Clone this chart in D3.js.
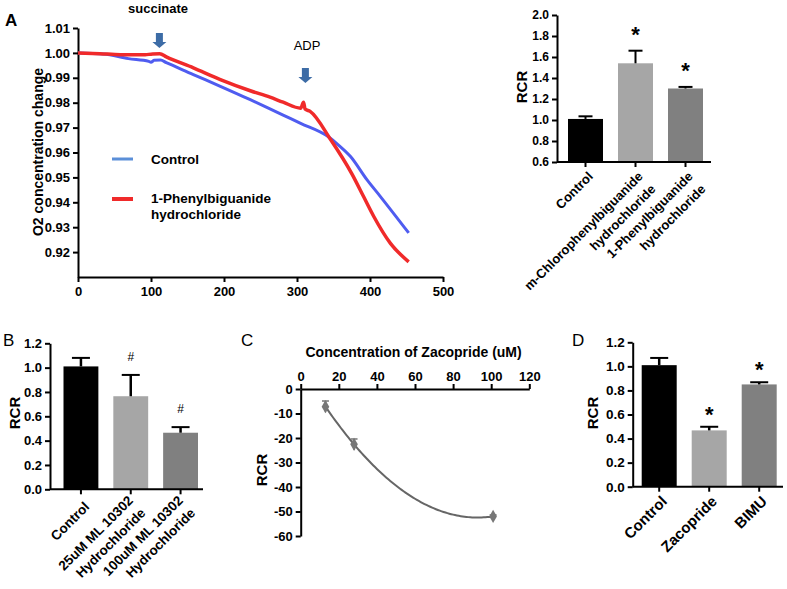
<!DOCTYPE html>
<html lang="en">
<head>
<meta charset="UTF-8">
<title>RCR figure</title>
<script src="https://cdn.jsdelivr.net/npm/d3@7"></script>
<style>
  body { margin: 0; background: #fff; }
  svg text { font-family: "Liberation Sans", Arial, sans-serif; }
</style>
</head>
<body>
<svg id="fig" width="787" height="589"></svg>
<script>
// ---- panel A, oxygen traces ----
var timeControl = [0, 35, 69, 97, 100, 104, 113, 121, 158, 195, 236, 263, 281, 305, 343, 358, 373, 396, 414, 453];
var o2Control   = [1.0000, 0.9996, 0.9977, 0.9966, 0.9962, 0.9970, 0.9971, 0.9961, 0.9913, 0.9866, 0.9812, 0.9775, 0.9750, 0.9717, 0.9663, 0.9627, 0.9585, 0.9490, 0.9424, 0.9277];
var timeDrug = [0, 30, 58, 92, 100, 112, 121, 158, 195, 236, 263, 281, 305, 309, 311, 318, 346, 375, 391, 405, 428, 453];
var o2Drug   = [1.0000, 0.9997, 0.9993, 0.9993, 0.9995, 0.9997, 0.9984, 0.9940, 0.9893, 0.9848, 0.9822, 0.9802, 0.9778, 0.9802, 0.9775, 0.9765, 0.9652, 0.9515, 0.9424, 0.9344, 0.9235, 0.9161];
var traceXTicks = [0, 100, 200, 300, 400, 500];
var traceYTicks = [0.92, 0.93, 0.94, 0.95, 0.96, 0.97, 0.98, 0.99, 1.00, 1.01];

// ---- panel A, RCR bars ----
var aLabels = [["Control"], ["m-Chlorophenylbiguanide", "hydrochloride"], ["1-Phenylbiguanide", "hydrochloride"]];
var aValues = [1.01, 1.54, 1.30];
var aErrors = [0.025, 0.12, 0.015];
var aMarks  = ["", "*", "*"];
var aTicks  = [0.6, 0.8, 1.0, 1.2, 1.4, 1.6, 1.8, 2.0];

// ---- panel B ----
var bLabels = [["Control"], ["25uM ML 10302", "Hydrochloride"], ["100uM ML 10302", "Hydrochloride"]];
var bValues = [1.01, 0.765, 0.465];
var bErrors = [0.07, 0.175, 0.046];
var bMarks  = ["", "#", "#"];
var bTicks  = [0.0, 0.2, 0.4, 0.6, 0.8, 1.0, 1.2];

// ---- panel C ----
var zacConc = [13, 28, 101];
var zacRCR  = [-7.2, -22.6, -52.0];
var zacErr  = [2.3, 2.2, 0.6];
var cXTicks = [0, 20, 40, 60, 80, 100, 120];
var cYTicks = [0, -10, -20, -30, -40, -50, -60];

// ---- panel D ----
var dLabels = [["Control"], ["Zacopride"], ["BIMU"]];
var dValues = [1.01, 0.468, 0.85];
var dErrors = [0.06, 0.03, 0.018];
var dMarks  = ["", "*", "*"];
var dTicks  = [0.0, 0.2, 0.4, 0.6, 0.8, 1.0, 1.2];

var barColors = ["#000000", "#a6a6a6", "#808080"];

var svg = d3.select("#fig");

function styleAxis(sel, fs) {
    sel.selectAll(".domain").attr("stroke", "#000").attr("stroke-width", 2);
    sel.selectAll(".tick line").attr("stroke", "#000").attr("stroke-width", 2);
    sel.selectAll(".tick text").attr("fill", "#000").attr("font-size", fs).attr("font-weight", "bold");
}

// ================= Panel A : traces =================
var xA = d3.scaleLinear().domain([0, 500]).range([78, 443]);
var yA = d3.scaleLinear().domain([0.91, 1.01]).range([277, 28]);

svg.append("g").attr("transform", "translate(0,277)")
    .call(d3.axisBottom(xA).tickValues(traceXTicks).tickSize(5).tickSizeOuter(0).tickPadding(5))
    .call(styleAxis, 13);
svg.append("g").attr("transform", "translate(78,0)")
    .call(d3.axisLeft(yA).tickValues(traceYTicks).tickFormat(d3.format(".2f")).tickSize(5).tickSizeOuter(0))
    .call(styleAxis, 13);

var traceLine = d3.line().curve(d3.curveMonotoneX)
    .x(function(d) { return xA(d[0]); }).y(function(d) { return yA(d[1]); });
svg.append("path").datum(d3.zip(timeControl, o2Control))
    .attr("d", traceLine).attr("fill", "none").attr("stroke", "#4f5cf0").attr("stroke-width", 3);
svg.append("path").datum(d3.zip(timeDrug, o2Drug))
    .attr("d", traceLine).attr("fill", "none").attr("stroke", "#f02a2a").attr("stroke-width", 3.5);

svg.append("text").attr("x", 38).attr("y", 152)
    .attr("transform", "rotate(-90,38,152)").attr("text-anchor", "middle").attr("dy", "0.35em")
    .attr("font-size", 14).attr("font-weight", "bold").text("O2 concentration change");

// injection arrows
function downArrow(cx, top, bottom) {
    var head = bottom - 6;
    var p = d3.path();
    p.moveTo(cx - 3.5, top); p.lineTo(cx + 3.5, top); p.lineTo(cx + 3.5, head);
    p.lineTo(cx + 7, head); p.lineTo(cx, bottom); p.lineTo(cx - 7, head);
    p.lineTo(cx - 3.5, head); p.closePath();
    svg.append("path").attr("d", p.toString()).attr("fill", "#3d6ca6");
}
downArrow(xA(111.5), yA(1.008), yA(1.002));
downArrow(xA(311.5), yA(0.9939), yA(0.9879));
svg.append("text").attr("x", 158).attr("y", 13).attr("text-anchor", "middle")
    .attr("font-size", 13).attr("font-weight", "bold").text("succinate");
svg.append("text").attr("x", 307).attr("y", 50).attr("text-anchor", "middle")
    .attr("font-size", 13).text("ADP");

// legend
svg.append("line").attr("x1", 112).attr("x2", 133).attr("y1", 159).attr("y2", 159)
    .attr("stroke", "#5b8fd8").attr("stroke-width", 3);
svg.append("line").attr("x1", 112).attr("x2", 133).attr("y1", 199).attr("y2", 199)
    .attr("stroke", "#f02a2a").attr("stroke-width", 4);
svg.append("text").attr("x", 151).attr("y", 159).attr("dy", "0.35em")
    .attr("font-size", 13.5).attr("font-weight", "bold").text("Control");
svg.append("text").attr("x", 151).attr("y", 198).attr("dy", "0.35em")
    .attr("font-size", 13.5).attr("font-weight", "bold").text("1-Phenylbiguanide");
svg.append("text").attr("x", 151).attr("y", 214).attr("dy", "0.35em")
    .attr("font-size", 13.5).attr("font-weight", "bold").text("hydrochloride");

// ================= bar panels =================
function drawBars(cfg) {
    var y = d3.scaleLinear().domain(cfg.yDomain).range([cfg.bottom, cfg.top]);
    var x = d3.scaleBand().domain(d3.range(cfg.values.length))
        .range([cfg.barLeft, cfg.barRight]).paddingInner(0.3).paddingOuter(0);
    var g = svg.append("g");

    g.selectAll("rect").data(cfg.values).join("rect")
        .attr("x", function(d, i) { return x(i); })
        .attr("width", x.bandwidth())
        .attr("y", function(d) { return y(d); })
        .attr("height", function(d) { return cfg.bottom - y(d); })
        .attr("fill", function(d, i) { return barColors[i]; });

    cfg.values.forEach(function(v, i) {
        var cx = x(i) + x.bandwidth() / 2;
        var top = y(v + cfg.errors[i]);
        g.append("line").attr("x1", cx).attr("x2", cx).attr("y1", y(v)).attr("y2", top)
            .attr("stroke", "#000").attr("stroke-width", cfg.errWidth);
        g.append("line").attr("x1", cx - cfg.capW / 2).attr("x2", cx + cfg.capW / 2)
            .attr("y1", top).attr("y2", top).attr("stroke", "#000").attr("stroke-width", 2);
        if (cfg.marks[i]) {
            g.append("text").attr("x", cx).attr("y", top - cfg.markGap + cfg.markShift * cfg.markSize)
                .attr("text-anchor", "middle").attr("font-size", cfg.markSize)
                .attr("font-weight", cfg.markWeight).text(cfg.marks[i]);
        }
    });

    g.append("g").attr("transform", "translate(" + cfg.axisLeft + ",0)")
        .call(d3.axisLeft(y).tickValues(cfg.ticks).tickFormat(d3.format(".1f")).tickSize(5).tickSizeOuter(0))
        .call(styleAxis, cfg.tickFont);
    g.append("g").attr("transform", "translate(0," + cfg.bottom + ")")
        .call(d3.axisBottom(x).tickSize(5).tickFormat(""))
        .call(styleAxis, cfg.tickFont)
        .call(function(a) { a.select(".domain").attr("d", "M" + cfg.axisLeft + ",0H" + cfg.axisRight); });

    cfg.labels.forEach(function(lines, i) {
        var cx = x(i) + x.bandwidth() / 2;
        var lg = g.append("g")
            .attr("transform", "translate(" + (cx + cfg.labelDx) + "," + (cfg.bottom + cfg.labelDy) + ") rotate(-45)");
        var off = cfg.labelCenter * (lines.length - 1) * cfg.lineGap;
        lines.forEach(function(t, j) {
            lg.append("text").attr("x", 0).attr("y", j * cfg.lineGap - off)
                .attr("dy", "0.35em").attr("text-anchor", "end")
                .attr("font-size", cfg.labelFont).attr("font-weight", "bold").text(t);
        });
    });

    svg.append("text").attr("x", cfg.titleX).attr("y", cfg.titleY)
        .attr("transform", "rotate(-90," + cfg.titleX + "," + cfg.titleY + ")")
        .attr("text-anchor", "middle").attr("dy", "0.35em")
        .attr("font-size", 15).attr("font-weight", "bold").text("RCR");
}

drawBars({
    values: aValues, errors: aErrors, marks: aMarks, labels: aLabels, ticks: aTicks,
    yDomain: [0.6, 2.0], bottom: 162, top: 15,
    axisLeft: 557, axisRight: 711, barLeft: 568, barRight: 703,
    capW: 14, errWidth: 2, markSize: 22, markWeight: "bold", markGap: 20, markShift: 0.5,
    tickFont: 12, labelFont: 13, lineGap: 18, labelCenter: 0, labelDx: 5, labelDy: 12,
    titleX: 522, titleY: 87
});
drawBars({
    values: bValues, errors: bErrors, marks: bMarks, labels: bLabels, ticks: bTicks,
    yDomain: [0, 1.2], bottom: 489.3, top: 343.3,
    axisLeft: 50, axisRight: 203, barLeft: 63.5, barRight: 198,
    capW: 18, errWidth: 2.5, markSize: 12, markWeight: "normal", markGap: 18, markShift: 0.35,
    tickFont: 13, labelFont: 13.5, lineGap: 17.5, labelCenter: 0.5, labelDx: 6, labelDy: 15,
    titleX: 15, titleY: 413
});
drawBars({
    values: dValues, errors: dErrors, marks: dMarks, labels: dLabels, ticks: dTicks,
    yDomain: [0, 1.2], bottom: 486.7, top: 342.3,
    axisLeft: 632.7, axisRight: 783, barLeft: 641.7, barRight: 776.7,
    capW: 18, errWidth: 2.5, markSize: 22, markWeight: "bold", markGap: 16, markShift: 0.5,
    tickFont: 13.5, labelFont: 15, lineGap: 18, labelCenter: 0, labelDx: 5, labelDy: 12,
    titleX: 593, titleY: 413
});

// ================= Panel C : Zacopride =================
var xC = d3.scaleLinear().domain([0, 120]).range([300.7, 529.3]);
var yC = d3.scaleLinear().domain([-60, 0]).range([536, 389]);

svg.append("g").attr("transform", "translate(0," + yC(0) + ")")
    .call(d3.axisTop(xC).tickValues(cXTicks).tickSize(5).tickSizeOuter(0).tickPadding(3))
    .call(styleAxis, 13);
svg.append("g").attr("transform", "translate(" + xC(0) + ",0)")
    .call(d3.axisLeft(yC).tickValues(cYTicks).tickFormat(function(d) { return String(d); }).tickSize(5).tickSizeOuter(0))
    .call(styleAxis, 13);

// second order polynomial fit through the three group means
function quadFit(x) {
    var s = 0;
    for (var i = 0; i < 3; i++) {
        var term = zacRCR[i];
        for (var j = 0; j < 3; j++) {
            if (j !== i) term *= (x - zacConc[j]) / (zacConc[i] - zacConc[j]);
        }
        s += term;
    }
    return s;
}
var fitX = d3.range(zacConc[0], zacConc[2] + 0.5, 1);
svg.append("path")
    .datum(fitX.map(function(x) { return [x, quadFit(x)]; }))
    .attr("d", d3.line().x(function(d) { return xC(d[0]); }).y(function(d) { return yC(d[1]); }))
    .attr("fill", "none").attr("stroke", "#666").attr("stroke-width", 2);

zacConc.forEach(function(c, i) {
    var cx = xC(c);
    var t = yC(zacRCR[i] + zacErr[i]), b = yC(zacRCR[i] - zacErr[i]);
    svg.append("line").attr("x1", cx).attr("x2", cx).attr("y1", t).attr("y2", b)
        .attr("stroke", "#777").attr("stroke-width", 1.5);
    svg.append("line").attr("x1", cx - 3.5).attr("x2", cx + 3.5).attr("y1", t).attr("y2", t)
        .attr("stroke", "#777").attr("stroke-width", 1.5);
    svg.append("path").attr("d", d3.symbol(d3.symbolDiamond, 50)())
        .attr("transform", "translate(" + cx + "," + yC(zacRCR[i]) + ")").attr("fill", "#777");
});

svg.append("text").attr("x", 413.6).attr("y", 352).attr("dy", "0.35em").attr("text-anchor", "middle")
    .attr("font-size", 14).attr("font-weight", "bold").text("Concentration of Zacopride (uM)");
svg.append("text").attr("x", 262).attr("y", 470)
    .attr("transform", "rotate(-90,262,470)").attr("text-anchor", "middle").attr("dy", "0.35em")
    .attr("font-size", 15).attr("font-weight", "bold").text("RCR");

// panel letters
svg.append("text").attr("x", 5).attr("y", 26).attr("font-size", 17).attr("font-weight", "bold").text("A");
svg.append("text").attr("x", 3).attr("y", 346).attr("font-size", 17).text("B");
svg.append("text").attr("x", 241).attr("y", 346).attr("font-size", 17).text("C");
svg.append("text").attr("x", 572).attr("y", 346).attr("font-size", 17).text("D");
</script>
</body>
</html>
